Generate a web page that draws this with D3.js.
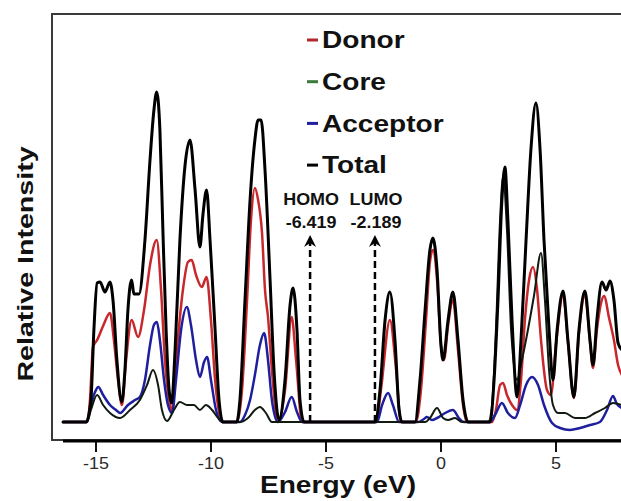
<!DOCTYPE html>
<html>
<head>
<meta charset="utf-8">
<script src="https://cdn.jsdelivr.net/npm/d3@7"></script>
<style>
  html, body { margin: 0; padding: 0; background: #fff; }
  svg { display: block; }
  text { font-family: "Liberation Sans", Arial, sans-serif; }
</style>
</head>
<body>
<svg id="chart" width="621" height="501"></svg>
<script>
// Projected density of states, [energy (eV), relative intensity]
const donor = [[-16.41,0],[-15.37,0],[-15.24,5.5],[-15.11,18.75],[-14.93,20.5],[-14.67,24],[-14.37,27.25],[-14.20,20.5],[-14.02,10.5],[-13.85,4.25],[-13.67,15.5],[-13.43,25.5],[-13.15,21.25],[-12.89,28],[-12.63,39.25],[-12.34,45.5],[-12.15,33],[-11.98,15.5],[-11.80,5.5],[-11.67,3],[-11.46,18],[-11.20,33],[-10.98,40],[-10.82,40.5],[-10.63,36.75],[-10.38,33.75],[-10.17,36.25],[-9.98,25.5],[-9.80,10.5],[-9.50,0],[-8.85,0],[-8.63,8],[-8.41,30.5],[-8.24,50.5],[-8.07,58.5],[-7.93,55.5],[-7.76,47.25],[-7.63,33],[-7.50,26.25],[-7.33,13],[-7.07,0],[-6.76,8],[-6.47,26.25],[-6.28,15.5],[-6.02,0],[-2.80,0],[-2.59,8],[-2.20,25.5],[-1.93,13],[-1.72,0],[-1.07,0],[-0.85,8],[-0.63,25.5],[-0.46,40],[-0.33,43],[-0.15,35.5],[0.02,19.25],[0.15,15.5],[0.33,24.25],[0.54,30.5],[0.76,18],[0.98,4.25],[1.15,0],[2.24,0],[2.41,3],[2.59,9.25],[2.72,9.75],[2.89,6.75],[3.11,4.25],[3.33,3],[3.50,10.5],[3.67,25.5],[3.85,35.5],[4.02,38.75],[4.20,33],[4.37,20.5],[4.63,8],[4.80,6.75],[5.02,19.25],[5.33,31.75],[5.54,20],[5.80,6],[6.02,22.25],[6.28,31.75],[6.50,20],[6.63,13.5],[6.80,23],[6.98,29.75],[7.11,31.5],[7.33,26],[7.54,20.5],[7.72,14.25],[7.89,11.75]];

const core = [[-16.41,0],[-15.37,0],[-15.20,3],[-14.93,6.75],[-14.67,4.25],[-14.37,2.25],[-13.93,1],[-13.50,3],[-13.07,5.5],[-12.76,9.25],[-12.50,13],[-12.28,9.25],[-12.11,3],[-11.89,0.25],[-11.59,3],[-11.33,5],[-11.02,4.25],[-10.72,4.25],[-10.46,3],[-10.20,4.25],[-9.93,3],[-9.67,1],[-9.46,0],[-8.72,0],[-8.37,1],[-8.07,3],[-7.85,3.75],[-7.59,2.25],[-7.33,0],[-0.67,0],[-0.46,1],[-0.15,3.5],[0.11,1],[0.33,0.5],[0.63,1],[0.93,0],[2.07,0],[2.24,4.25],[2.41,23],[2.59,50.5],[2.72,61.25],[2.89,48],[3.07,23],[3.33,10.5],[3.54,15.5],[3.80,23],[4.07,31.75],[4.37,42.25],[4.54,30.5],[4.72,13],[4.89,4.25],[5.11,2.25],[5.41,2.25],[5.85,1],[6.28,1],[6.72,2.25],[7.15,3.5],[7.50,4.75],[7.89,4.25]];

const acceptor = [[-16.41,0],[-15.37,0],[-15.20,4.25],[-15.02,7.5],[-14.88,8.75],[-14.67,6.75],[-14.37,4.25],[-14.11,3],[-13.93,2.25],[-13.59,4.25],[-13.28,5.5],[-13.07,6.25],[-12.85,10.5],[-12.63,19.25],[-12.46,24.25],[-12.33,25],[-12.20,20.5],[-12.02,10.5],[-11.85,4.25],[-11.67,2.25],[-11.50,10.5],[-11.28,23],[-11.03,28.75],[-10.85,24.25],[-10.63,15.5],[-10.46,11.25],[-10.28,15],[-10.15,16.25],[-9.98,10.5],[-9.76,3],[-9.50,0],[-8.72,0],[-8.50,1.75],[-8.28,5.5],[-8.07,11.75],[-7.85,19.25],[-7.67,22.25],[-7.50,15.5],[-7.33,5.5],[-7.07,0],[-6.76,2.5],[-6.47,6.25],[-6.24,2.5],[-6.02,0],[-2.76,0],[-2.54,4.25],[-2.28,7.25],[-2.07,4.25],[-1.80,0],[-0.98,0],[-0.72,0.75],[-0.59,1.25],[-0.37,0.5],[-0.15,1],[0.20,2.25],[0.54,3],[0.80,1],[1.02,0],[2.15,0],[2.37,1.75],[2.67,4.75],[2.93,2.25],[3.24,1],[3.46,4.25],[3.72,9.25],[3.98,11.25],[4.24,9.25],[4.50,4.25],[4.85,-0.25],[5.20,-1.5],[5.63,-2],[6.07,-1.5],[6.50,-0.75],[6.93,0],[7.24,3],[7.50,6.5],[7.67,4.5],[7.89,3.5]];

const total = [[-16.41,0],[-15.41,0],[-15.20,5.5],[-15.07,23],[-14.93,34.75],[-14.80,35],[-14.59,32.5],[-14.37,35],[-14.24,30.5],[-14.07,15.5],[-13.86,5],[-13.72,13],[-13.59,28],[-13.43,35.5],[-13.33,32],[-13.11,32],[-12.85,45.5],[-12.63,65.5],[-12.46,78],[-12.34,82.5],[-12.20,73],[-12.07,48],[-11.93,23],[-11.80,8],[-11.69,4.75],[-11.54,18],[-11.33,45.5],[-11.11,64],[-10.89,70.5],[-10.67,58],[-10.46,43.75],[-10.33,51.75],[-10.17,58],[-10.02,45.5],[-9.80,23],[-9.63,5.5],[-9.46,0],[-8.86,0],[-8.72,5.5],[-8.50,30.5],[-8.28,55.5],[-8.07,70.5],[-7.93,75.5],[-7.80,75.5],[-7.63,63],[-7.41,35.5],[-7.24,13],[-7.02,0.5],[-6.76,10.5],[-6.54,29.25],[-6.41,33.5],[-6.24,23],[-6.11,5.5],[-5.93,0],[-2.85,0],[-2.63,8],[-2.41,25.5],[-2.20,32.5],[-1.98,20.5],[-1.80,3],[-1.67,0],[-1.11,0],[-0.89,10.5],[-0.67,28],[-0.46,43],[-0.33,46],[-0.15,38],[0.02,19.25],[0.11,15.5],[0.33,25.5],[0.54,32.5],[0.76,20.5],[0.98,5.5],[1.20,0],[2.15,0],[2.33,10.5],[2.50,30.5],[2.67,55.5],[2.80,63.75],[2.93,50.5],[3.11,25.5],[3.33,6.25],[3.50,20.5],[3.72,45.5],[3.93,68],[4.15,79.75],[4.33,68],[4.50,45.5],[4.72,23],[4.89,10.5],[5.07,23],[5.33,32.75],[5.54,20.5],[5.80,6.25],[6.02,23],[6.28,32.75],[6.50,20.5],[6.63,14.25],[6.80,25.5],[7.02,35],[7.20,33],[7.37,35.25],[7.54,30.5],[7.72,19.75],[7.89,18]];

const seriesNames = ["Donor", "Core", "Acceptor", "Total"];
const xTicks = [-15, -10, -5, 0, 5];

// Frontier orbital markers
const levelNames = ["HOMO", "LUMO"];
const levelEnergies = ["-6.419", "-2.189"];
const levelPositions = [-5.67, -2.85];
const levelArrowTop = 46.75;

const svg = d3.select("#chart");
svg.append("rect").attr("width", 621).attr("height", 501).attr("fill", "#fff");

const x = d3.scaleLinear().domain([-16, 8]).range([72.5, 624.5]);
const y = d3.scaleLinear().domain([0, 100]).range([422, 22]);

// widen glyphs along the text direction
function stretch(sel, factor) {
  sel.each(function () {
    const w = this.getComputedTextLength();
    this.setAttribute("textLength", (w * factor).toFixed(1));
    this.setAttribute("lengthAdjust", "spacingAndGlyphs");
  });
}

// plot frame
svg.append("path")
  .attr("d", "M700,14 H52 V440 H700")
  .attr("fill", "none").attr("stroke", "#3a3a3a").attr("stroke-width", 2);

// x axis
const axis = svg.append("g").attr("transform", "translate(0,441)")
  .call(d3.axisBottom(x).tickValues(xTicks).tickSize(11).tickPadding(6)
    .tickFormat(d => String(d)));
axis.select(".domain").remove();
axis.append("line").attr("x1", 63).attr("x2", 640).attr("y1", 0).attr("y2", 0)
  .attr("stroke", "#000").attr("stroke-width", 3);
axis.selectAll(".tick line").attr("stroke", "#111").attr("stroke-width", 2);
axis.selectAll(".tick text")
  .attr("font-family", "Liberation Sans, Arial, sans-serif")
  .attr("font-size", 16).attr("fill", "#2a2a2a");
stretch(axis.selectAll(".tick text"), 1.12);

// axis titles
const xt = svg.append("text").attr("x", 338).attr("y", 493)
  .attr("text-anchor", "middle").attr("font-size", 23).attr("font-weight", "bold")
  .attr("fill", "#111").text("Energy (eV)");
stretch(xt, 1.22);

const yt = svg.append("text")
  .attr("transform", "translate(33,264) rotate(-90)")
  .attr("text-anchor", "middle").attr("font-size", 22).attr("font-weight", "bold")
  .attr("fill", "#111").text("Relative Intensity");
stretch(yt, 1.3);

// curves
const line = d3.line().curve(d3.curveMonotoneX).x(d => x(d[0])).y(d => y(d[1]));
const plot = svg.append("g").attr("fill", "none")
  .attr("stroke-linejoin", "round").attr("stroke-linecap", "round");

const curveData = [donor, acceptor, core, total];
const curveColors = ["#c8282c", "#1f1f9e", "#101a10", "#000"];
const curveWidths = [2.5, 2.5, 2, 3];
curveData.forEach((s, i) => {
  plot.append("path").datum(s).attr("d", line)
    .attr("stroke", curveColors[i]).attr("stroke-width", curveWidths[i]);
});

// HOMO / LUMO arrows
const levels = svg.append("g");
levelPositions.forEach((e, i) => {
  const cx = x(e), top = y(levelArrowTop), bottom = y(0);
  levels.append("line").attr("x1", cx).attr("x2", cx)
    .attr("y1", bottom).attr("y2", top + 8)
    .attr("stroke", "#000").attr("stroke-width", 2.5).attr("stroke-dasharray", "7,4");
  levels.append("path")
    .attr("d", `M${cx},${top} L${cx + 6},${top + 12} L${cx},${top + 8} L${cx - 6},${top + 12} Z`)
    .attr("fill", "#000");
  const t1 = levels.append("text").attr("x", cx + 1).attr("y", 205)
    .attr("text-anchor", "middle").attr("font-size", 16).attr("font-weight", "bold")
    .attr("fill", "#111").text(levelNames[i]);
  stretch(t1, 1.12);
  const t2 = levels.append("text").attr("x", cx + 1).attr("y", 228)
    .attr("text-anchor", "middle").attr("font-size", 16).attr("font-weight", "bold")
    .attr("fill", "#111").text(levelEnergies[i]);
  stretch(t2, 1.12);
});

// legend
const legendColors = ["#b0282c", "#3a7a3a", "#1f1f9e", "#000"];
const legend = svg.append("g");
seriesNames.forEach((name, i) => {
  const cy = 40 + i * 41.7;
  legend.append("line").attr("x1", 307).attr("x2", 318).attr("y1", cy).attr("y2", cy)
    .attr("stroke", legendColors[i]).attr("stroke-width", 3);
  const t = legend.append("text").attr("x", 322).attr("y", cy + 8.3)
    .attr("font-size", 23).attr("font-weight", "bold").attr("fill", "#111").text(name);
  stretch(t, 1.22);
});
</script>
</body>
</html>
